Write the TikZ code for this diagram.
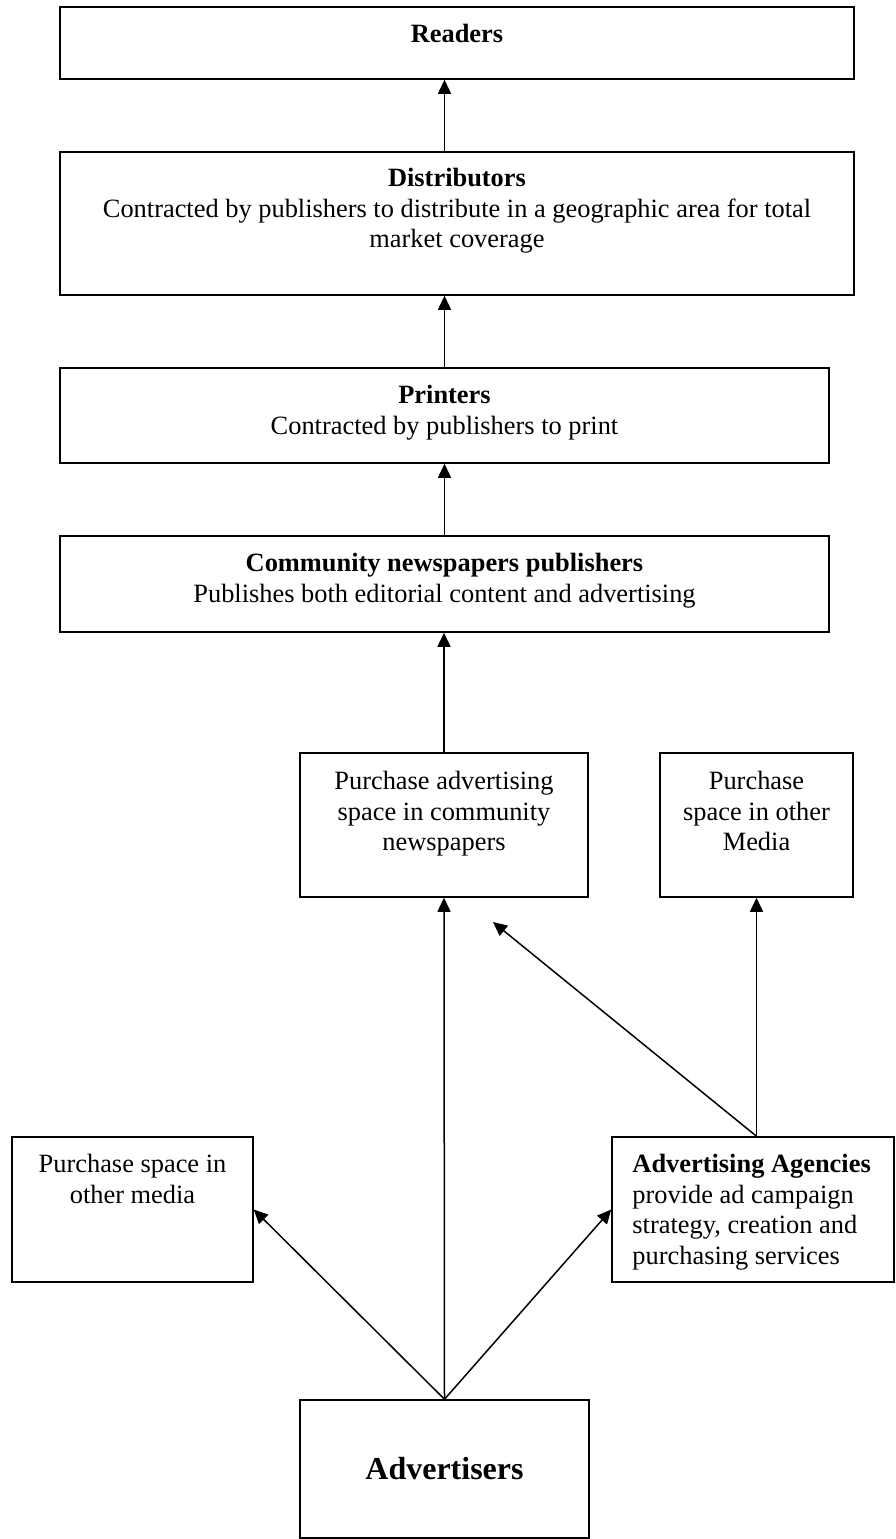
\documentclass[tikz,border=0pt]{standalone}
\usepackage{fontspec}
\setmainfont{Liberation Serif}
\usetikzlibrary{arrows.meta,positioning}

\begin{document}
\begin{tikzpicture}[x=1pt,y=-1pt,
	box/.style={draw, line width=1.5pt, inner sep=0pt},
	txt/.style={align=center, inner sep=0pt, font=\fontsize{26.4}{30.5}\selectfont},
	arr/.style={line width=1.5pt, -{Triangle[length=14pt,width=13pt]}}]
	\useasboundingbox (0,0) rectangle (895,1539);
	% boxes
	\node[box, minimum width=794pt, minimum height=72pt] (readers) at (457,43) {};
	\node[box, minimum width=794pt, minimum height=143pt] (dist) at (457,223.5) {};
	\node[box, minimum width=769pt, minimum height=95pt] (printers) at (444.5,415.5) {};
	\node[box, minimum width=769pt, minimum height=96pt] (community) at (444.5,584) {};
	\node[box, minimum width=288pt, minimum height=144pt] (purchAd) at (444,825) {};
	\node[box, minimum width=193pt, minimum height=144pt] (otherMedia) at (756.5,825) {};
	\node[box, minimum width=241pt, minimum height=145pt] (otherLeft) at (132.5,1209.5) {};
	\node[box, minimum width=282pt, minimum height=145pt] (agencies) at (753,1209.5) {};
	\node[box, minimum width=289pt, minimum height=138pt, font=\fontsize{32}{36}\selectfont\bfseries] (advertisers) at (444.5,1469) {Advertisers};
	% texts
	\node[txt, below=18pt of readers.north] (readers-t) {\textbf{Readers}};
	\node[txt, below=17pt of dist.north] (dist-t) {\textbf{Distributors}\\Contracted by publishers to distribute in a geographic area for total\\market coverage};
	\node[txt, below=18pt of printers.north] (printers-t) {\textbf{Printers}\\Contracted by publishers to print};
	\node[txt, below=18pt of community.north] (community-t) {\textbf{Community newspapers publishers}\\Publishes both editorial content and advertising};
	\node[txt, below=19pt of purchAd.north] (purchAd-t) {Purchase advertising\\space in community\\newspapers};
	\node[txt, below=19pt of otherMedia.north] (otherMedia-t) {Purchase\\space in other\\Media};
	\node[txt, below=18pt of otherLeft.north] (otherLeft-t) {Purchase space in\\other media};
	\node[txt, align=left, anchor=north west] (agencies-t) at ([xshift=21pt,yshift=-18pt]agencies.north west) {\textbf{Advertising Agencies}\\provide ad campaign\\strategy, creation and\\purchasing services};
	% arrows
	\coordinate (adtip) at (493,922);
	\draw[arr] (dist.north -| printers.north) -- (readers.south -| printers.north);
	\draw[arr] (printers.north) -- (dist.south -| printers.north);
	\draw[arr] (community.north) -- (printers.south);
	\draw[arr] (purchAd.north) -- (purchAd.north |- community.south);
	\draw[arr] (advertisers.north) -- (purchAd.south);
	\draw[arr] (advertisers.north) -- (otherLeft.east);
	\draw[arr] (advertisers.north) -- (agencies.west);
	\draw[arr] (otherMedia.south |- agencies.north) -- (otherMedia.south);
	\draw[arr] (otherMedia.south |- agencies.north) -- (adtip);
\end{tikzpicture}
\end{document}
